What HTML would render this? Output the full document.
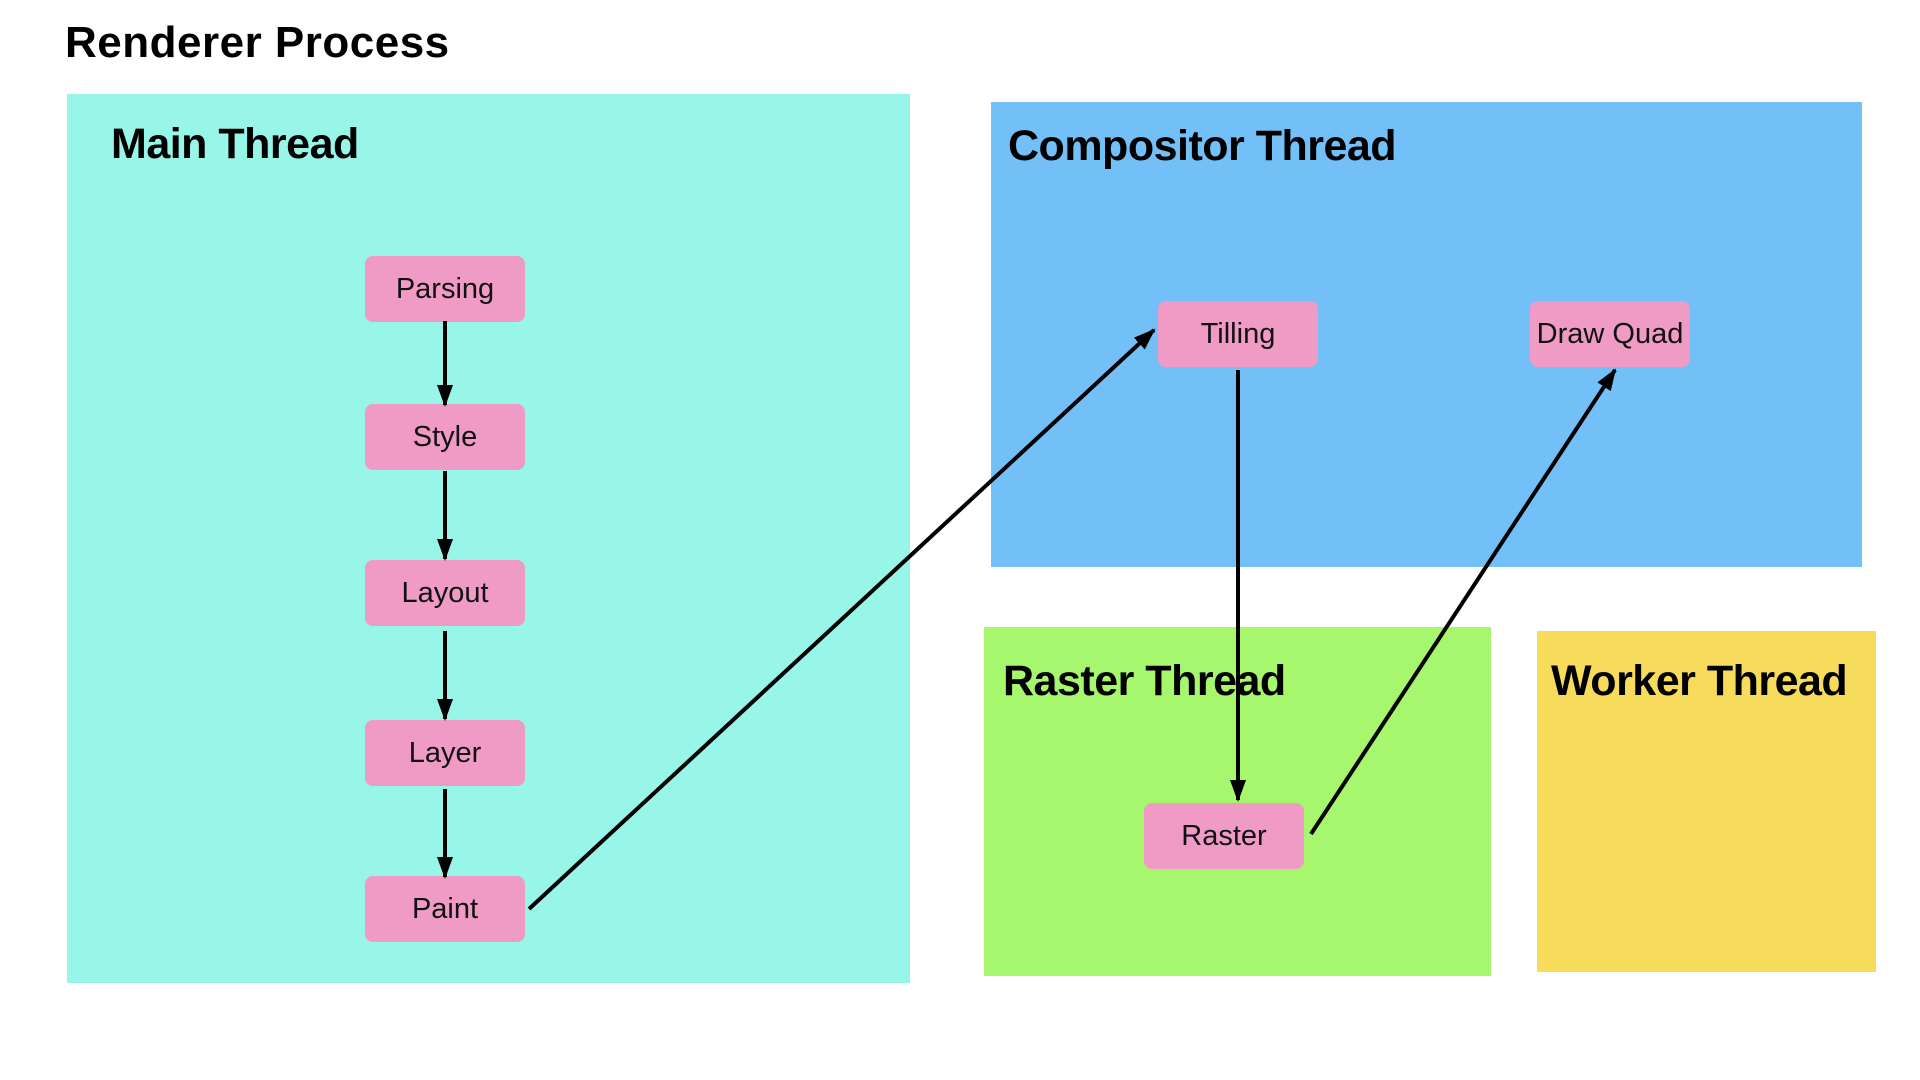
<!DOCTYPE html>
<html><head><meta charset="utf-8"><style>
body{margin:0;width:1920px;height:1080px;background:#fff;position:relative;overflow:hidden;font-family:"Liberation Sans",sans-serif}
.b{position:absolute}
.t{position:absolute;font-weight:bold;font-size:43px;line-height:50px;color:#000;letter-spacing:-0.5px;white-space:nowrap}
.n{position:absolute;background:#f09ac6;border-radius:8px;width:160px;height:66px;display:flex;align-items:center;justify-content:center;font-size:29px;color:#111}
</style></head><body>
<div class="t" style="left:65px;top:18px;font-size:44px;letter-spacing:0.5px">Renderer Process</div>
<div class="b" style="left:67px;top:94px;width:843px;height:889px;background:#98f6e8"></div>
<div class="b" style="left:991px;top:102px;width:871px;height:465px;background:#73bff8"></div>
<div class="b" style="left:984px;top:627px;width:507px;height:349px;background:#a6f76d"></div>
<div class="b" style="left:1537px;top:631px;width:339px;height:341px;background:#f7db5b"></div>
<div class="t" style="left:111px;top:119px">Main Thread</div>
<div class="t" style="left:1008px;top:121px">Compositor Thread</div>
<div class="t" style="left:1003px;top:656px">Raster Thread</div>
<div class="t" style="left:1551px;top:656px">Worker Thread</div>
<div class="n" style="left:365px;top:256px">Parsing</div>
<div class="n" style="left:365px;top:404px">Style</div>
<div class="n" style="left:365px;top:560px">Layout</div>
<div class="n" style="left:365px;top:720px">Layer</div>
<div class="n" style="left:365px;top:876px">Paint</div>
<div class="n" style="left:1158px;top:301px">Tilling</div>
<div class="n" style="left:1530px;top:301px">Draw Quad</div>
<div class="n" style="left:1144px;top:803px">Raster</div>
<svg class="b" style="left:0;top:0" width="1920" height="1080">
<defs>
<marker id="m" markerWidth="22" markerHeight="16" refX="20" refY="8" orient="auto" markerUnits="userSpaceOnUse" viewBox="0 0 22 16"><path d="M0,0 L22,8 L0,16z" fill="#000"/></marker></defs>
<g stroke="#000" stroke-width="4" fill="none">
<line x1="445" y1="321" x2="445" y2="405" marker-end="url(#m)"/>
<line x1="445" y1="471" x2="445" y2="559" marker-end="url(#m)"/>
<line x1="445" y1="631" x2="445" y2="719" marker-end="url(#m)"/>
<line x1="445" y1="789" x2="445" y2="877" marker-end="url(#m)"/>
<line x1="529" y1="909" x2="1154" y2="330" marker-end="url(#m)"/>
<line x1="1238" y1="370" x2="1238" y2="800" marker-end="url(#m)"/>
<line x1="1311" y1="834" x2="1615" y2="370" marker-end="url(#m)"/>
</g></svg>
</body></html>
